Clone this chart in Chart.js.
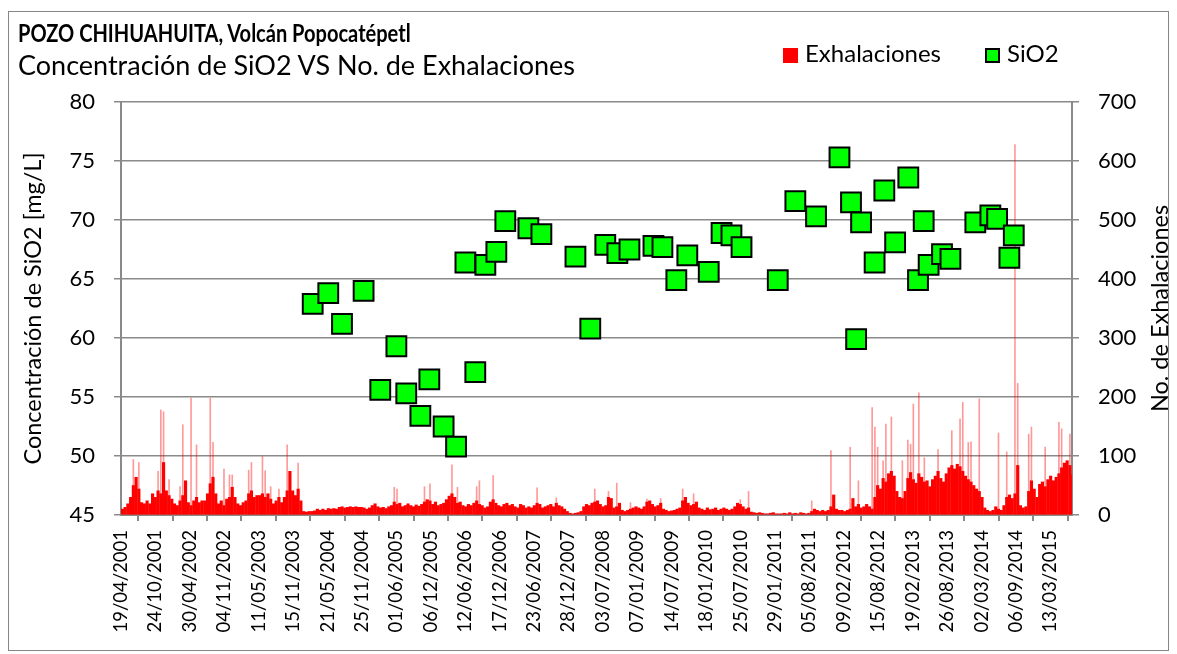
<!DOCTYPE html>
<html>
<head>
<meta charset="utf-8">
<script src="https://cdn.jsdelivr.net/npm/chart.js@4.4.1/dist/chart.umd.min.js"></script>
<style>
  body { margin: 0; background: #fff; font-family: Lato, sans-serif; color: #000; }
  #wrap { position: relative; width: 1177px; height: 654px; }
  #frame { position: absolute; left: 8px; top: 11px; width: 1161px; height: 640px; border: 1px solid #868686; box-sizing: border-box; pointer-events: none; }
  #title { position: absolute; left: 18px; top: 21px; font-weight: bold; font-size: 24.5px; line-height: 24.5px; white-space: nowrap; transform: scaleX(0.818); transform-origin: left top; }
  #subtitle { position: absolute; left: 18px; top: 51px; font-size: 27px; line-height: 27px; white-space: nowrap; }
  #legend { position: absolute; left: 783px; top: 41px; font-size: 24px; line-height: 24px; display: flex; white-space: nowrap; }
  #legend .item { display: flex; align-items: flex-start; margin-right: 44px; }
  #legend .box { width: 15px; height: 15px; margin: 7px 7px 0 0; box-sizing: border-box; }
</style>
</head>
<body>
<div id="wrap">
  <canvas id="chart" width="1177" height="654"></canvas>
  <div id="frame"></div>
  <div id="title">POZO CHIHUAHUITA, Volcán Popocatépetl</div>
  <div id="subtitle">Concentración de SiO2 VS No. de Exhalaciones</div>
  <div id="legend"></div>
</div>
<script>
// SiO2 samples (date, mg/L)
const sioDates = [
  '2004-03-01','2004-05-25','2004-08-08','2004-12-04','2005-03-05','2005-06-01','2005-07-25','2005-10-10',
  '2005-11-28','2006-02-14','2006-04-23','2006-06-13','2006-08-06','2006-09-30','2006-11-29','2007-01-17',
  '2007-05-23','2007-08-02','2008-02-04','2008-04-25','2008-07-16','2008-09-20','2008-11-25','2009-04-05',
  '2009-05-24','2009-08-08','2009-10-07','2010-02-01','2010-04-12','2010-06-05','2010-07-30','2011-02-13',
  '2011-05-20','2011-09-10','2012-01-16','2012-03-19','2012-04-16','2012-05-13','2012-07-26','2012-09-17',
  '2012-11-15','2013-01-26','2013-03-20','2013-04-20','2013-05-17','2013-07-29','2013-09-13','2014-01-27',
  '2014-04-19','2014-05-26','2014-08-01','2014-08-25'
];
const sioValues = [
  62.9, 63.8, 61.2, 64.0, 55.6, 59.3, 55.3, 53.4,
  56.5, 52.5, 50.8, 66.4, 57.1, 66.2, 67.3, 69.9,
  69.3, 68.8, 66.9, 60.8, 67.9, 67.2, 67.5, 67.8,
  67.7, 64.9, 67.0, 65.6, 68.9, 68.7, 67.7, 64.9,
  71.6, 70.3, 75.3, 71.5, 59.9, 69.8, 66.4, 72.5,
  68.1, 73.6, 64.9, 69.9, 66.2, 67.1, 66.7, 69.8,
  70.4, 70.1, 66.8, 68.7
];

// exhalaciones, 15-day periods starting 19/04/2001
const exhStart = '2001-04-19';
const exhStepDays = 15;
// typical daily count in each period
const exhBase = [
  10,13,19,30,50,64,44,21,19,24, 19,36,30,41,36,89,41,33,27,19,
  16,24,33,58,21,16,24,30,21,24, 24,36,53,64,36,19,24,16,27,30,
  47,30,19,16,21,24,36,41,30,33, 33,36,30,36,27,19,24,30,21,30,
  41,74,41,33,44,24,6,5,6,6, 7,10,8,10,8,11,10,11,10,13,
  14,12,13,14,13,14,13,13,12,10, 12,16,19,14,12,13,11,14,16,22,
  18,20,14,16,19,16,14,17,15,18, 22,26,24,18,22,16,18,20,26,32,
  36,30,20,22,16,14,18,16,20,24, 18,16,12,14,22,26,20,16,14,18,
  20,16,18,14,12,18,16,12,14,12, 16,20,18,12,14,16,18,14,20,16,
  14,10,6,3,2,3,4,6,14,18, 16,20,22,24,18,14,16,30,28,12,
  14,20,8,6,8,10,12,14,12,10, 14,22,24,18,14,16,20,10,8,6,
  7,8,10,12,24,30,20,16,18,22, 12,10,8,12,9,10,12,8,10,12,
  10,8,10,14,20,18,14,10,12,5, 4,3,4,3,2,2,3,4,2,2,
  2,3,2,4,2,3,2,4,3,2, 3,6,10,8,6,8,6,8,14,34,
  10,8,8,6,8,10,28,14,18,12, 14,18,14,10,30,50,44,62,56,70,
  74,66,40,30,28,40,62,72,60,54, 70,64,56,58,48,60,66,74,62,56,
  70,80,84,78,86,82,74,66,60,56, 50,44,40,30,12,8,6,8,14,10,
  8,16,30,34,28,36,84,16,12,14, 40,58,44,30,52,56,48,60,66,58,
  64,70,80,88,92,84,68
];
// highest single day in the period (0 = nothing above typical)
const exhPeak = [
  0,0,0,0,94,0,89,0,0,0, 0,0,0,74,178,175,0,60,0,0,
  0,48,153,0,0,198,0,119,0,0, 0,0,198,123,0,0,0,78,0,68,
  68,0,0,0,0,0,76,89,0,0, 0,99,75,0,48,0,0,44,0,0,
  119,0,0,0,88,0,0,0,0,0, 0,0,0,0,0,0,0,0,0,0,
  0,0,0,0,0,0,0,0,0,0, 0,0,0,0,0,0,0,0,0,47,
  44,0,0,0,0,0,0,0,0,0, 48,0,53,0,0,0,0,0,0,0,
  85,0,47,0,0,0,0,0,0,48, 58,0,0,0,0,67,0,0,0,0,
  0,0,0,0,0,0,0,0,0,0, 0,46,0,0,0,0,0,0,29,0,
  0,0,0,0,0,0,0,0,0,0, 0,0,44,0,0,0,0,40,0,0,
  54,0,0,0,0,21,0,0,0,0, 0,27,0,0,0,0,28,0,0,0,
  0,0,0,0,44,0,0,0,36,0, 0,0,0,0,0,0,0,0,0,0,
  0,0,0,0,0,26,0,0,40,0, 0,0,0,0,0,0,0,0,0,0,
  0,0,0,0,0,0,0,0,0,0, 0,24,0,0,0,0,0,0,109,0,
  0,0,0,0,0,115,0,0,58,0, 0,0,0,182,149,115,0,92,154,0,
  166,0,0,0,92,0,127,120,188,0, 207,0,97,0,0,0,0,111,0,0,
  0,0,143,0,0,163,191,0,123,124, 0,0,197,0,0,0,0,0,0,139,
  0,0,107,0,0,628,223,0,0,0, 137,149,0,0,0,0,115,0,0,0,
  0,157,146,0,0,137,0
];

// axis
const axisEnd = '2015-07-09';
const tickEveryDays = 188;
const sioTicks = [45, 80, 5];
const exhTicks = [0, 700, 100];

function dayOf(s) {
  const p = s.split('-').map(Number);
  return (Date.UTC(p[0], p[1] - 1, p[2]) - Date.UTC(2001, 3, 19)) / 864e5;
}
function fmtDay(d) {
  const dt = new Date(Date.UTC(2001, 3, 19) + d * 864e5);
  const dd = String(dt.getUTCDate()).padStart(2, '0');
  const mm = String(dt.getUTCMonth() + 1).padStart(2, '0');
  return dd + '/' + mm + '/' + dt.getUTCFullYear();
}

const start = dayOf(exhStart);
const basePts = exhBase.map((v, i) => ({x: start + i * exhStepDays + exhStepDays / 2, y: v}));
const peakPts = [];
exhPeak.forEach((v, i) => { if (v > 0) peakPts.push({x: start + i * exhStepDays + exhStepDays / 2, y: v}); });
const sioPts = sioDates.map((d, i) => ({x: dayOf(d), y: sioValues[i]}));

Chart.defaults.font.family = 'Lato, sans-serif';
Chart.defaults.color = '#000';

const gridGray = '#8a8a8a';

// right axis title reads bottom to top, like the left one
const rightTitle = {
  id: 'rightTitle',
  afterDraw(chart, args, opts) {
    const ctx = chart.ctx;
    const area = chart.chartArea;
    ctx.save();
    ctx.translate(chart.width - opts.offset, (area.top + area.bottom) / 2);
    ctx.rotate(-Math.PI / 2);
    ctx.font = opts.size + 'px Lato, sans-serif';
    ctx.fillStyle = '#000';
    ctx.textAlign = 'center';
    ctx.textBaseline = 'middle';
    ctx.fillText(opts.text, 0, 0);
    ctx.restore();
  }
};

const chart = new Chart(document.getElementById('chart'), {
  type: 'bar',
  data: {
    datasets: [
      {
        type: 'scatter',
        label: 'SiO2',
        data: sioPts,
        yAxisID: 'y',
        pointStyle: 'rect',
        pointRadius: 14,
        backgroundColor: '#00ff00',
        borderColor: '#000',
        borderWidth: 2,
        order: 0
      },
      {
        label: 'Exhalaciones',
        data: peakPts,
        yAxisID: 'y2',
        backgroundColor: 'rgba(255,0,0,0.4)',
        barThickness: 1,
        grouped: false,
        order: 1
      },
      {
        label: 'Exhalaciones',
        data: basePts,
        yAxisID: 'y2',
        backgroundColor: '#ff0000',
        barThickness: 2.5,
        grouped: false,
        order: 2
      }
    ]
  },
  options: {
    responsive: false,
    animation: false,
    devicePixelRatio: 1,
    layout: { padding: { top: 102, left: 0, right: 0, bottom: 0 } },
    plugins: {
      legend: { display: false },
      tooltip: { enabled: false },
      rightTitle: { text: 'No. de Exhalaciones', size: 23.5, offset: 17 }
    },
    scales: {
      x: {
        type: 'linear',
        min: 0,
        max: dayOf(axisEnd),
        offset: false,
        ticks: {
          stepSize: tickEveryDays,
          includeBounds: false,
          autoSkip: false,
          minRotation: 90,
          maxRotation: 90,
          padding: 9,
          font: { size: 18.5 },
          callback: v => fmtDay(v)
        },
        grid: { drawOnChartArea: false, tickLength: 6, color: gridGray, lineWidth: 2 },
        border: { color: gridGray, width: 2 },
        afterFit: s => { s.height = 139; }
      },
      y: {
        position: 'left',
        min: sioTicks[0],
        max: sioTicks[1],
        ticks: { stepSize: sioTicks[2], padding: 19, font: { size: 22 } },
        grid: { color: gridGray, lineWidth: 1.5, tickLength: 7 },
        border: { color: gridGray, width: 2 },
        title: { display: true, text: 'Concentración de SiO2 [mg/L]', font: { size: 23.5 }, padding: { top: 19 } },
        afterFit: s => { s.width = 121; }
      },
      y2: {
        position: 'right',
        min: exhTicks[0],
        max: exhTicks[1],
        ticks: { stepSize: exhTicks[2], padding: 19, font: { size: 22 } },
        grid: { drawOnChartArea: false, color: gridGray, lineWidth: 1.5, tickLength: 7 },
        border: { color: gridGray, width: 2 },
        afterFit: s => { s.width = 105; }
      }
    }
  },
  plugins: [rightTitle]
});

// legend built from the datasets
const legend = document.getElementById('legend');
[chart.data.datasets[2], chart.data.datasets[0]].forEach(ds => {
  const item = document.createElement('div');
  item.className = 'item';
  const box = document.createElement('span');
  box.className = 'box';
  box.style.background = ds.backgroundColor;
  if (ds.type === 'scatter') box.style.border = '2px solid ' + ds.borderColor;
  item.appendChild(box);
  item.appendChild(document.createTextNode(ds.label));
  legend.appendChild(item);
});
</script>
</body>
</html>
